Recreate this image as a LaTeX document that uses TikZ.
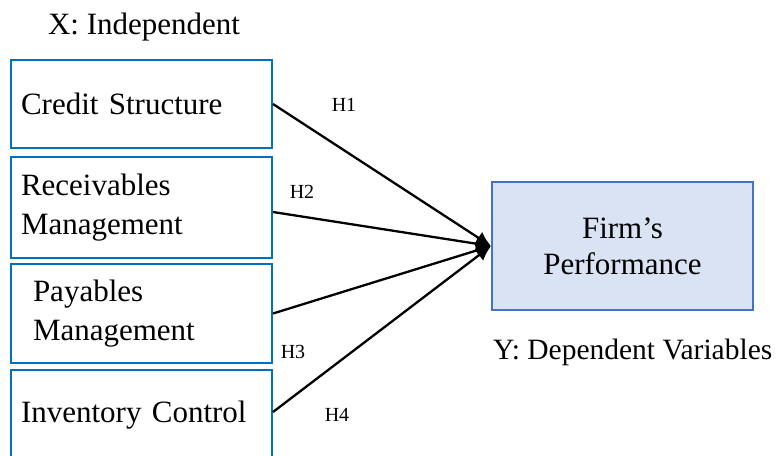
\documentclass[tikz,border=0pt]{standalone}
\usepackage{fontspec}
\setmainfont{Liberation Serif}
\usetikzlibrary{arrows.meta}
\definecolor{boxblue}{HTML}{0070C0}
\definecolor{firmfill}{HTML}{DAE3F3}
\definecolor{firmdraw}{HTML}{4472C4}
\begin{document}
\begin{tikzpicture}[x=1pt,y=-1pt,
  varbox/.style={draw=boxblue,line width=2pt,minimum width=261pt,text width=241pt,align=left,inner sep=0pt,
    font=\fontsize{31}{39}\selectfont},
  firmbox/.style={draw=firmdraw,fill=firmfill,line width=2pt,minimum width=261pt,minimum height=128pt,align=center,
    font=\fontsize{31}{36}\selectfont},
  caption/.style={font=\fontsize{31}{37}\selectfont,inner sep=0pt},
  hlabel/.style={font=\fontsize{20}{24}\selectfont,inner sep=0pt},
  link/.style={line width=2.3pt,-{Latex[length=15pt,width=14pt]}}]
\useasboundingbox (0,0) rectangle (778,455);
\clip (0,0) rectangle (778,455);
\node[caption] (xlab) at (144,27) {X: Independent};
\node[varbox,minimum height=88pt] (b1) at (141.5,104) {Credit Structure};
\node[varbox,minimum height=101pt] (b2) at (141.5,207.5) {Receivables\\Management};
\node[varbox,minimum height=99pt] (b3) at (141.5,313.5) {\hspace*{12pt}Payables\\\hspace*{12pt}Management};
\node[varbox,minimum height=90pt] (b4) at (141.5,415) {Inventory Control};
\node[firmbox] (firm) at (622.5,246) {Firm’s\\Performance};
\node[caption,anchor=west,font=\fontsize{29.5}{35}\selectfont] (ylab) at (493,352) {Y: Dependent Variables};
\draw[link] (b1.east) -- (firm.west);
\draw[link] ([yshift=-4.5pt]b2.east) -- (firm.west);
\draw[link] (b3.east) -- (firm.west);
\draw[link] ([yshift=3pt]b4.east) -- (firm.west);
\node[hlabel] (h1) at (344,105) {H1};
\node[hlabel] (h2) at (302,192) {H2};
\node[hlabel] (h3) at (293,352) {H3};
\node[hlabel] (h4) at (337,415) {H4};
\end{tikzpicture}
\end{document}
